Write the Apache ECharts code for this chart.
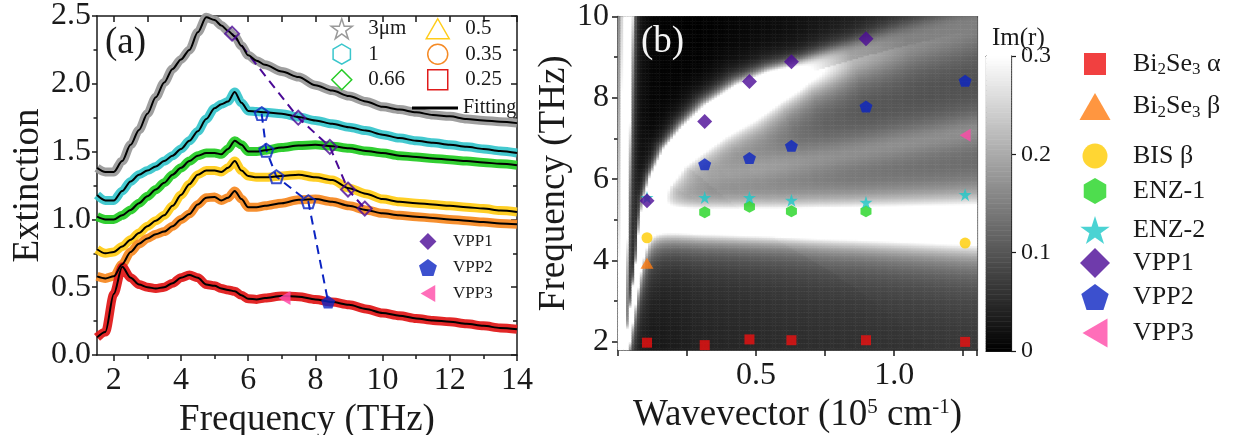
<!DOCTYPE html>
<html>
<head>
<meta charset="utf-8">
<script src="https://cdn.jsdelivr.net/npm/echarts@6/dist/echarts.min.js"></script>
<style>
html, body { margin: 0; padding: 0; background: #ffffff; }
#chart { width: 1248px; height: 435px; }
</style>
</head>
<body>
<div id="chart"></div>
<script>
// ---------- panel (a): extinction spectra of ribbon arrays ----------
const freqTHz = [1.5, 1.75, 2.0, 2.25, 2.5, 2.75, 3.0, 3.25, 3.5, 3.75, 4.0, 4.25, 4.5, 4.75, 5.0, 5.2, 5.4, 5.6, 5.8, 6.0, 6.25, 6.5, 7, 7.5, 8, 8.5, 9, 9.5, 10, 10.5, 11, 11.5, 12, 12.5, 13, 13.5, 14];
const ext3um = [1.38, 1.35, 1.35, 1.43, 1.55, 1.66, 1.78, 1.90, 2.01, 2.11, 2.18, 2.25, 2.38, 2.49, 2.47, 2.43, 2.39, 2.35, 2.28, 2.21, 2.17, 2.14, 2.09, 2.05, 1.99, 1.95, 1.91, 1.87, 1.83, 1.81, 1.79, 1.77, 1.76, 1.74, 1.73, 1.72, 1.71];
const ext1um = [1.18, 1.14, 1.14, 1.21, 1.28, 1.33, 1.36, 1.39, 1.43, 1.47, 1.52, 1.58, 1.65, 1.74, 1.82, 1.85, 1.87, 1.94, 1.86, 1.80, 1.795, 1.79, 1.78, 1.755, 1.73, 1.705, 1.68, 1.655, 1.625, 1.60, 1.58, 1.565, 1.55, 1.535, 1.52, 1.505, 1.49];
const ext066um = [1.02, 1.00, 1.00, 1.03, 1.07, 1.12, 1.17, 1.22, 1.27, 1.33, 1.38, 1.43, 1.47, 1.49, 1.49, 1.48, 1.52, 1.58, 1.55, 1.50, 1.50, 1.51, 1.53, 1.545, 1.55, 1.54, 1.525, 1.505, 1.49, 1.47, 1.46, 1.45, 1.44, 1.43, 1.42, 1.41, 1.40];
const ext05um = [0.78, 0.75, 0.76, 0.80, 0.85, 0.90, 0.95, 0.99, 1.03, 1.10, 1.18, 1.26, 1.33, 1.36, 1.36, 1.35, 1.38, 1.43, 1.36, 1.32, 1.31, 1.31, 1.32, 1.33, 1.31, 1.29, 1.23, 1.19, 1.15, 1.13, 1.12, 1.11, 1.10, 1.09, 1.08, 1.065, 1.055];
const ext035um = [0.58, 0.565, 0.58, 0.67, 0.76, 0.82, 0.86, 0.89, 0.91, 0.95, 1.00, 1.04, 1.11, 1.16, 1.165, 1.14, 1.16, 1.21, 1.15, 1.09, 1.09, 1.10, 1.12, 1.145, 1.15, 1.13, 1.10, 1.07, 1.045, 1.03, 1.02, 1.01, 1.00, 0.99, 0.98, 0.97, 0.965];
const ext025um = [0.13, 0.17, 0.45, 0.65, 0.57, 0.52, 0.50, 0.49, 0.50, 0.53, 0.57, 0.59, 0.57, 0.52, 0.51, 0.49, 0.48, 0.47, 0.44, 0.415, 0.41, 0.42, 0.435, 0.43, 0.41, 0.39, 0.37, 0.34, 0.31, 0.29, 0.27, 0.255, 0.245, 0.23, 0.215, 0.20, 0.19];

// plasmon peaks picked on the spectra
const vpp1PeakFreq = [5.52, 7.49, 8.43, 8.97, 9.47];
const vpp1PeakExt = [2.37, 1.75, 1.535, 1.22, 1.08];
const vpp2PeakFreq = [6.40, 6.54, 6.84, 7.79, 8.38];
const vpp2PeakExt = [1.78, 1.51, 1.315, 1.13, 0.39];
const vpp3PeakFreq = [7.08];
const vpp3PeakExt = [0.42];

const freqMajorTicks = [2, 4, 6, 8, 10, 12, 14];
const freqMinorTicks = [3, 5, 7, 9, 11, 13];
const freqTopTicks = [2, 3, 4, 5, 6, 7, 8, 9, 10, 11, 12, 13, 14];

// ---------- panel (b): dispersion over Im(r) map ----------
const waveVec = [0.105, 0.314, 0.476, 0.628, 0.898, 1.257];
const bi2se3AlphaF = [1.98, 1.92, 2.06, 2.04, 2.04, 2.00];
const bi2se3BetaQ = [0.105];
const bi2se3BetaF = [3.93];
const bisBetaQ = [0.105, 1.257];
const bisBetaF = [4.56, 4.43];
const enz1Q = [0.314, 0.476, 0.628, 0.898];
const enz1F = [5.19, 5.32, 5.21, 5.21];
const enz2F = [5.55, 5.55, 5.55, 5.48, 5.43, 5.62];
const vpp1Q = [0.105, 0.314, 0.476, 0.628, 0.898];
const vpp1F = [5.47, 7.42, 8.40, 8.89, 9.45];
const vpp2Q = [0.314, 0.476, 0.628, 0.898, 1.257];
const vpp2F = [6.37, 6.52, 6.82, 7.79, 8.42];
const vpp3Q = [1.257];
const vpp3F = [7.08];

const freqBTicks = [2, 4, 6, 8, 10];
const freqBMinor = [3, 5, 7, 9];

// ridges of the computed Im(r) map: wavevector, frequency, peak value,
// half widths of the bright core (px) on either side of the ridge
const lightQ = [0.018, 0.045];
const lightF = [1.8, 10.0];
const lightPeak = [0.6, 0.6];
const lightWLeft = [5, 7];
const lightWRight = [2, 2.5];

const upperQ = [0.030, 0.036, 0.056, 0.076, 0.095, 0.115, 0.145, 0.20, 0.27, 0.35, 0.46, 0.56, 0.68, 0.85, 1.05, 1.30];
const upperF = [1.8, 2.0, 3.0, 4.0, 5.0, 5.5, 6.0, 6.6, 7.05, 7.5, 7.95, 8.3, 8.6, 8.95, 9.3, 9.7];
const upperPeak = [0.6, 0.6, 0.6, 0.6, 0.6, 0.6, 0.6, 0.6, 0.6, 0.6, 0.6, 0.48, 0.3, 0.16, 0.11, 0.09];
const upperWAbove = [1.5, 1.5, 2, 2.5, 4, 6, 8, 11, 14, 16, 17, 16, 15, 18, 22, 24];
const upperWBelow = [2, 2, 2.5, 3.5, 6, 8, 10, 13, 16, 18, 19, 19, 20, 24, 28, 30];

const enzQ = [0.09, 0.30, 0.60, 0.90, 1.30];
const enzF = [5.0, 4.95, 4.92, 4.90, 4.87];
const enzPeak = [0.45, 0.45, 0.45, 0.45, 0.45];
const enzW = [13, 14, 15, 18, 22];

const lowerQ = [0.25, 0.50, 0.75, 1.00, 1.30];
const lowerF = [5.95, 6.25, 6.55, 6.85, 7.2];
const lowerPeak = [0.04, 0.07, 0.08, 0.085, 0.085];
const lowerW = [16, 18, 20, 20, 20];

const bgQ = [0, 0.1, 0.3, 0.6, 1.3];
const bgBelow = [0, 0.015, 0.035, 0.045, 0.05];
const bgAbove = [0, 0, 0, 0.015, 0.06];

// ---------- styling ----------
const FONT = 'Liberation Serif';
const INK = '#1a1a1a';
const SQUARE = 'path://M0,0H100V100H0Z';
const TRIANGLE = 'path://M50,0L100,87L0,87Z';
const CIRCLE = 'path://M50,0A50,50,0,1,1,50,100A50,50,0,1,1,50,0Z';
const HEXAGON = 'path://M50,0L93.3,25L93.3,75L50,100L6.7,75L6.7,25Z';
const STAR = 'path://M50,0L61.2,34.5L97.6,34.5L68.2,55.9L79.4,90.5L50,69.1L20.6,90.5L31.8,55.9L2.4,34.5L38.8,34.5Z';
const DIAMOND = 'path://M50,0L100,50L50,100L0,50Z';
const PENTAGON = 'path://M50,0L97.6,34.5L79.4,90.5L20.6,90.5L2.4,34.5Z';
const TRI_LEFT = 'path://M0,50L86,0L86,100Z';
const BAR = 'path://M0,0H100V6H0Z';
// width / height of each outline, used to size legend icons
const ASPECT = {};
ASPECT[SQUARE] = 1; ASPECT[TRIANGLE] = 100 / 87; ASPECT[CIRCLE] = 1; ASPECT[HEXAGON] = 0.866;
ASPECT[STAR] = 95.2 / 90.5; ASPECT[DIAMOND] = 1; ASPECT[PENTAGON] = 95.2 / 90.5; ASPECT[TRI_LEFT] = 0.86;

const C_RED = '#ee1010', C_ORANGE = '#ff7c10', C_YELLOW = '#ffcc00', C_GREEN = '#22d422';
const C_CYAN = '#1ec8c8', C_PURPLE = '#4b0a96', C_BLUE = '#0b24c2', C_PINK = '#ff4aa8';

// ---------- Im(r) map cells ----------
const CELL_Q = 0.01, CELL_F = 0.04;
const PX_Q = 276, PX_F = 40.75;   // screen scale used for distances to a ridge

function nearestOnRidge(rq, rf, q, f) {
  const px = q * PX_Q, py = f * PX_F;
  let best = { d2: Infinity, k: 0, t: 0, side: 0 };
  for (let k = 0; k < rq.length - 1; k++) {
    const ax = rq[k] * PX_Q, ay = rf[k] * PX_F;
    const dx = rq[k + 1] * PX_Q - ax, dy = rf[k + 1] * PX_F - ay;
    let t = ((px - ax) * dx + (py - ay) * dy) / (dx * dx + dy * dy);
    t = t < 0 ? 0 : (t > 1 ? 1 : t);
    const ex = px - (ax + t * dx), ey = py - (ay + t * dy);
    const d2 = ex * ex + ey * ey;
    if (d2 < best.d2) best = { d2: d2, k: k, t: t, side: dx * (py - ay) - dy * (px - ax) };
  }
  return best;
}
const lerpAt = (arr, k, t) => arr[k] + (arr[k + 1] - arr[k]) * t;
// profile: peak / (1 + (d / w)^p), p chosen per side of the ridge
function ridge(rq, rf, peak, wA, wB, pA, pB, q, f) {
  const n = nearestOnRidge(rq, rf, q, f);
  const above = n.side > 0;
  const w = above ? lerpAt(wA, n.k, n.t) : lerpAt(wB, n.k, n.t);
  const p = above ? pA : pB;
  const x2 = n.d2 / (w * w);
  return { v: lerpAt(peak, n.k, n.t) / (1 + Math.pow(x2, p / 2)), side: n.side };
}
function levelAt(levels, q) {
  for (let k = 0; k < bgQ.length - 1; k++) {
    if (q <= bgQ[k + 1]) return lerpAt(levels, k, (q - bgQ[k]) / (bgQ[k + 1] - bgQ[k]));
  }
  return levels[levels.length - 1];
}

const qCells = [], fCells = [], heatCells = [];
for (let i = 0; i < 130; i++) qCells.push(((i + 0.5) * CELL_Q).toFixed(3));
for (let j = 0; j < 205; j++) fCells.push((1.8 + (j + 0.5) * CELL_F).toFixed(3));
for (let i = 0; i < qCells.length; i++) {
  const q = +qCells[i];
  for (let j = 0; j < fCells.length; j++) {
    const f = +fCells[j];
    const up = ridge(upperQ, upperF, upperPeak, upperWAbove, upperWBelow, 4, 2, q, f);
    let v = up.v + ridge(lightQ, lightF, lightPeak, lightWLeft, lightWRight, 2, 2, q, f).v;
    if (up.side <= 0) {
      v += levelAt(bgBelow, q);
      v += ridge(enzQ, enzF, enzPeak, enzW, enzW, 2, 2, q, f).v;
      v += ridge(lowerQ, lowerF, lowerPeak, lowerW, lowerW, 2, 2, q, f).v;
    } else {
      v += levelAt(bgAbove, q);
    }
    heatCells.push([i, j, Math.min(v, 0.3)]);
  }
}

// colour bar cells
const barCells = [], barData = [];
for (let k = 0; k < 120; k++) {
  const val = (k + 0.5) * 0.3 / 120;
  barCells.push(val.toFixed(4));
  barData.push([0, k, val]);
}

const pairs = (xs, ys) => xs.map((x, i) => [x, ys[i]]);

// ---------- axes helpers ----------
const axisLineStyle = { color: INK, width: 1.5 };
const tickStyle = { color: INK, width: 1.5 };
const labelStyle = { fontFamily: FONT, fontSize: 32, color: INK };
const nameStyle = { fontFamily: FONT, fontSize: 37, color: INK };

const spectra = [
  { name: '3μm', data: ext3um, color: '#9a9a9a', icon: STAR },
  { name: '1', data: ext1um, color: '#3ac6cc', icon: HEXAGON },
  { name: '0.66', data: ext066um, color: '#27cc27', icon: DIAMOND },
  { name: '0.5', data: ext05um, color: '#ffcc1a', icon: TRIANGLE },
  { name: '0.35', data: ext035um, color: '#f58a25', icon: CIRCLE },
  { name: '0.25', data: ext025um, color: '#e01b1b', icon: SQUARE }
];

// panel (b) modes
const modes = [
  { name: 'Bi2Se3 α', q: waveVec, f: bi2se3AlphaF, symbol: SQUARE, size: [10, 10], color: C_RED },
  { name: 'Bi2Se3 β', q: bi2se3BetaQ, f: bi2se3BetaF, symbol: TRIANGLE, size: [13, 11], color: C_ORANGE },
  { name: 'BIS β', q: bisBetaQ, f: bisBetaF, symbol: CIRCLE, size: [11, 11], color: C_YELLOW },
  { name: 'ENZ-1', q: enz1Q, f: enz1F, symbol: HEXAGON, size: [11, 12], color: C_GREEN },
  { name: 'ENZ-2', q: waveVec, f: enz2F, symbol: STAR, size: [13, 13], color: C_CYAN },
  { name: 'VPP1', q: vpp1Q, f: vpp1F, symbol: DIAMOND, size: [15, 15], color: C_PURPLE },
  { name: 'VPP2', q: vpp2Q, f: vpp2F, symbol: PENTAGON, size: [13, 12], color: C_BLUE },
  { name: 'VPP3', q: vpp3Q, f: vpp3F, symbol: TRI_LEFT, size: [11, 13], color: C_PINK }
];

const series = [];
// 0: Im(r) map
series.push({
  type: 'heatmap', xAxisIndex: 4, yAxisIndex: 4, data: heatCells,
  progressive: 0, silent: true, z: 1, emphasis: { disabled: true }
});
// 1: colour bar
series.push({
  type: 'heatmap', xAxisIndex: 6, yAxisIndex: 6, data: barData,
  progressive: 0, silent: true, z: 1, emphasis: { disabled: true }
});
// dispersion points (listed first so legends take their filled symbols)
modes.forEach(m => {
  series.push({
    type: 'scatter', name: m.name, xAxisIndex: 3, yAxisIndex: 2,
    data: pairs(m.q, m.f), symbol: m.symbol, symbolSize: m.size,
    itemStyle: { color: m.color }, z: 5, silent: true
  });
});
// measured spectra as thick bands
spectra.forEach(s => {
  series.push({
    type: 'line', name: s.name, xAxisIndex: 0, yAxisIndex: 0,
    data: pairs(freqTHz, s.data), smooth: 0.3, smoothMonotone: 'x',
    symbol: 'none', lineStyle: { color: s.color, width: 9, opacity: 0.95 },
    itemStyle: { color: s.color }, z: 3, silent: true
  });
});
// fitted curves
spectra.forEach(s => {
  series.push({
    type: 'line', name: 'Fitting', xAxisIndex: 0, yAxisIndex: 0,
    data: pairs(freqTHz, s.data), smooth: 0.3, smoothMonotone: 'x',
    symbol: 'none', lineStyle: { color: '#000000', width: 2 },
    itemStyle: { color: '#000000' }, z: 5, silent: true
  });
});
// VPP trends across the spectra
series.push({
  type: 'line', name: 'vpp1-trend', xAxisIndex: 0, yAxisIndex: 0,
  data: pairs(vpp1PeakFreq, vpp1PeakExt), symbol: 'none',
  lineStyle: { color: C_PURPLE, width: 2, type: [9, 6] }, z: 4, silent: true
});
series.push({
  type: 'line', name: 'vpp2-trend', xAxisIndex: 0, yAxisIndex: 0,
  data: pairs(vpp2PeakFreq, vpp2PeakExt), symbol: 'none',
  lineStyle: { color: C_BLUE, width: 2, type: [9, 6] }, z: 4, silent: true
});
series.push({
  type: 'scatter', name: 'VPP1', xAxisIndex: 0, yAxisIndex: 0,
  data: pairs(vpp1PeakFreq, vpp1PeakExt), symbol: DIAMOND, symbolSize: [14, 14],
  itemStyle: { color: 'transparent', borderColor: C_PURPLE, borderWidth: 2 }, z: 6, silent: true
});
series.push({
  type: 'scatter', name: 'VPP2', xAxisIndex: 0, yAxisIndex: 0,
  data: pairs(vpp2PeakFreq.slice(0, 4), vpp2PeakExt.slice(0, 4)), symbol: PENTAGON, symbolSize: [14, 13],
  itemStyle: { color: 'transparent', borderColor: C_BLUE, borderWidth: 2 }, z: 6, silent: true
});
series.push({
  type: 'scatter', name: 'VPP2', xAxisIndex: 0, yAxisIndex: 0,
  data: pairs(vpp2PeakFreq.slice(4), vpp2PeakExt.slice(4)), symbol: PENTAGON, symbolSize: [14, 13],
  itemStyle: { color: C_BLUE }, z: 6, silent: true
});
series.push({
  type: 'scatter', name: 'VPP3', xAxisIndex: 0, yAxisIndex: 0,
  data: pairs(vpp3PeakFreq, vpp3PeakExt), symbol: TRI_LEFT, symbolSize: [12, 14],
  itemStyle: { color: C_PINK, opacity: 0.85 }, z: 6, silent: true
});

// ---------- legends ----------
// a leading spacer token sets where each label starts
const legends = [];
function legendTextStyle(size, gap, extraRich) {
  return {
    fontFamily: FONT, fontSize: size, color: INK,
    rich: Object.assign({ g: { width: gap, fontSize: size } }, extraRich || {})
  };
}
const hollow = s => ({ name: s.name, icon: s.icon, itemStyle: { color: 'transparent', borderColor: s.color, borderWidth: 1.5 } });
legends.push({
  left: 341 - 10.5, top: 18, padding: 0, orient: 'vertical', itemWidth: 21, itemHeight: 20, itemGap: 4,
  selectedMode: false, formatter: n => '{g| }' + n, textStyle: legendTextStyle(21, 11),
  data: spectra.slice(0, 3).map(hollow)
});
legends.push({
  left: 437 - 11.5, top: 18, padding: 0, orient: 'vertical', itemWidth: 23, itemHeight: 20, itemGap: 4,
  selectedMode: false, formatter: n => '{g| }' + n, textStyle: legendTextStyle(21, 11),
  data: spectra.slice(3).map(hollow)
});
legends.push({
  left: 412, top: 98, padding: 0, itemWidth: 46, itemHeight: 3, selectedMode: false,
  textStyle: { fontFamily: FONT, fontSize: 20, color: INK },
  data: [{ name: 'Fitting', icon: BAR, itemStyle: { color: '#000000' } }]
});
legends.push({
  left: 428 - 9, top: 233, padding: 0, orient: 'vertical', itemWidth: 18, itemHeight: 17, itemGap: 9,
  selectedMode: false, formatter: n => '{g| }' + n, textStyle: legendTextStyle(17, 11),
  data: ['VPP1', 'VPP2', 'VPP3']
});
const rightRows = [65, 107, 157, 192, 230, 263, 298, 333];
const rightIcon = [22, 27, 25, 26, 28, 30, 26, 29];
const subStyle = { s: { fontFamily: FONT, fontSize: 17, color: INK, verticalAlign: 'bottom', padding: [12, 0, 0, 0] } };
modes.forEach((m, i) => {
  const h = Math.max(rightIcon[i], 28);
  const w = rightIcon[i] * ASPECT[m.symbol];
  legends.push({
    left: 1095 - w / 2, top: rightRows[i] - h / 2, padding: 0, itemWidth: w, itemHeight: rightIcon[i],
    selectedMode: false,
    formatter: n => '{g| }' + n.replace('Bi2Se3', 'Bi{s|2}Se{s|3}'),
    textStyle: legendTextStyle(26, 35 - w / 2 - 2, subStyle),
    data: [m.name]
  });
});

const option = {
  animation: false,
  backgroundColor: '#ffffff',
  textStyle: { fontFamily: FONT },
  title: [
    { text: '(a)', left: 100, top: 20, textStyle: { fontFamily: FONT, fontSize: 37, fontWeight: 'normal', color: INK } },
    { text: '(b)', left: 636, top: 19, textStyle: { fontFamily: FONT, fontSize: 37, fontWeight: 'normal', color: '#f4f4f4' } },
    { text: 'Im(r)', left: 987, top: 21, textStyle: { fontFamily: FONT, fontSize: 25, fontWeight: 'normal', color: INK } }
  ],
  grid: [
    { left: 97, top: 16, width: 420, height: 339, containLabel: false, outerBoundsMode: 'none' },
    { left: 618, top: 16.5, width: 359, height: 333.5, containLabel: false, outerBoundsMode: 'none' },
    { left: 986, top: 56, width: 25, height: 295, containLabel: false, outerBoundsMode: 'none' }
  ],
  visualMap: {
    type: 'continuous', min: 0, max: 0.3, seriesIndex: [0, 1], show: false,
    inRange: { color: ['#000000', '#ffffff'] }
  },
  legend: legends,
  xAxis: [
    { // 0: frequency, panel (a)
      gridIndex: 0, type: 'value', min: 1.5, max: 14, position: 'bottom',
      axisLine: { show: true, onZero: false, lineStyle: axisLineStyle },
      axisTick: { show: true, length: 6, customValues: freqMajorTicks, lineStyle: tickStyle },
      axisLabel: { customValues: freqMajorTicks, margin: 10, ...labelStyle },
      splitLine: { show: false },
      name: 'Frequency (THz)', nameLocation: 'middle', nameGap: 44, nameTextStyle: nameStyle
    },
    { // 1: minor ticks, panel (a)
      gridIndex: 0, type: 'value', min: 1.5, max: 14, position: 'bottom',
      axisLine: { show: false, onZero: false },
      axisTick: { show: true, length: 4, customValues: freqMinorTicks, lineStyle: tickStyle },
      axisLabel: { show: false }, splitLine: { show: false }
    },
    { // 2: top frame, panel (a)
      gridIndex: 0, type: 'value', min: 1.5, max: 14, position: 'top',
      axisLine: { show: true, onZero: false, lineStyle: axisLineStyle },
      axisTick: { show: true, inside: true, length: 6, customValues: freqTopTicks, lineStyle: tickStyle },
      axisLabel: { show: false }, splitLine: { show: false }
    },
    { // 3: wavevector, panel (b)
      gridIndex: 1, type: 'value', min: 0, max: 1.3, interval: 0.25, position: 'bottom',
      axisLine: { show: true, onZero: false, lineStyle: axisLineStyle },
      axisTick: { show: true, length: 6, lineStyle: tickStyle },
      axisLabel: { margin: 10, formatter: v => (Math.abs(v - 0.5) < 1e-6 || Math.abs(v - 1) < 1e-6) ? v.toFixed(1) : '', ...labelStyle },
      splitLine: { show: false },
      name: 'Wavevector (10{sup|5} cm{sup|-1})', nameLocation: 'middle', nameGap: 44,
      nameTextStyle: { ...nameStyle, rich: { sup: { fontFamily: FONT, fontSize: 21, color: INK, verticalAlign: 'top' } } }
    },
    { gridIndex: 1, type: 'category', data: qCells, show: false },  // 4: map columns
    { // 5: top frame, panel (b)
      gridIndex: 1, type: 'value', min: 0, max: 1.3, position: 'top',
      axisLine: { show: true, onZero: false, lineStyle: { color: '#2a2a2a', width: 1.5 } },
      axisTick: { show: false }, axisLabel: { show: false }, splitLine: { show: false }
    },
    { gridIndex: 2, type: 'category', data: ['bar'], show: false }, // 6: colour bar column
    { // 7: colour bar bottom edge
      gridIndex: 2, type: 'value', min: 0, max: 1, position: 'bottom',
      axisLine: { show: true, onZero: false, lineStyle: { color: INK, width: 1.2 } },
      axisTick: { show: false }, axisLabel: { show: false }, splitLine: { show: false }
    },
    { // 8: colour bar top edge
      gridIndex: 2, type: 'value', min: 0, max: 1, position: 'top',
      axisLine: { show: true, onZero: false, lineStyle: { color: INK, width: 1.2 } },
      axisTick: { show: false }, axisLabel: { show: false }, splitLine: { show: false }
    }
  ],
  yAxis: [
    { // 0: extinction, panel (a)
      gridIndex: 0, type: 'value', min: 0, max: 2.5, interval: 0.5, position: 'left',
      axisLine: { show: true, onZero: false, lineStyle: axisLineStyle },
      axisTick: { show: true, length: 5, lineStyle: tickStyle },
      minorTick: { show: true, splitNumber: 2, length: 3.5, lineStyle: tickStyle },
      axisLabel: { margin: 6, formatter: v => v.toFixed(1), ...labelStyle },
      splitLine: { show: false }, minorSplitLine: { show: false },
      name: 'Extinction', nameLocation: 'middle', nameGap: 50, nameTextStyle: nameStyle
    },
    { // 1: right frame, panel (a)
      gridIndex: 0, type: 'value', min: 0, max: 2.5, interval: 0.5, position: 'right',
      axisLine: { show: true, onZero: false, lineStyle: axisLineStyle },
      axisTick: { show: true, inside: true, length: 6, lineStyle: tickStyle },
      minorTick: { show: true, splitNumber: 2, length: 4, lineStyle: tickStyle },
      axisLabel: { show: false }, splitLine: { show: false }, minorSplitLine: { show: false }
    },
    { // 2: frequency, panel (b)
      gridIndex: 1, type: 'value', min: 1.8, max: 10, position: 'left',
      axisLine: { show: true, onZero: false, lineStyle: axisLineStyle },
      axisTick: { show: true, length: 6, customValues: freqBTicks, lineStyle: tickStyle },
      axisLabel: { customValues: freqBTicks, margin: 9, ...labelStyle },
      splitLine: { show: false },
      name: 'Frequency (THz)', nameLocation: 'middle', nameGap: 42, nameTextStyle: nameStyle
    },
    { // 3: minor ticks, panel (b)
      gridIndex: 1, type: 'value', min: 1.8, max: 10, position: 'left',
      axisLine: { show: false, onZero: false },
      axisTick: { show: true, length: 4, customValues: freqBMinor, lineStyle: tickStyle },
      axisLabel: { show: false }, splitLine: { show: false }
    },
    { gridIndex: 1, type: 'category', data: fCells, show: false },  // 4: map rows
    { // 5: right frame, panel (b)
      gridIndex: 1, type: 'value', min: 1.8, max: 10, position: 'right',
      axisLine: { show: true, onZero: false, lineStyle: { color: '#555555', width: 1.2 } },
      axisTick: { show: false }, axisLabel: { show: false }, splitLine: { show: false }
    },
    { gridIndex: 2, type: 'category', data: barCells, show: false }, // 6: colour bar rows
    { // 7: colour bar scale
      gridIndex: 2, type: 'value', min: 0, max: 0.3, interval: 0.1, position: 'right',
      axisLine: { show: true, onZero: false, lineStyle: { color: INK, width: 1.2 } },
      axisTick: { show: true, length: 5, lineStyle: { color: INK, width: 1.2 } },
      axisLabel: { margin: 10, fontFamily: FONT, fontSize: 24, color: INK, formatter: v => (v === 0 ? '0' : v.toFixed(1)) },
      splitLine: { show: false }
    },
    { // 8: colour bar left edge
      gridIndex: 2, type: 'value', min: 0, max: 1, position: 'left',
      axisLine: { show: true, onZero: false, lineStyle: { color: INK, width: 1.2 } },
      axisTick: { show: false }, axisLabel: { show: false }, splitLine: { show: false }
    }
  ],
  series: series
};

const chart = echarts.init(document.getElementById('chart'), null, { renderer: 'canvas' });
chart.setOption(option);
</script>
</body>
</html>
